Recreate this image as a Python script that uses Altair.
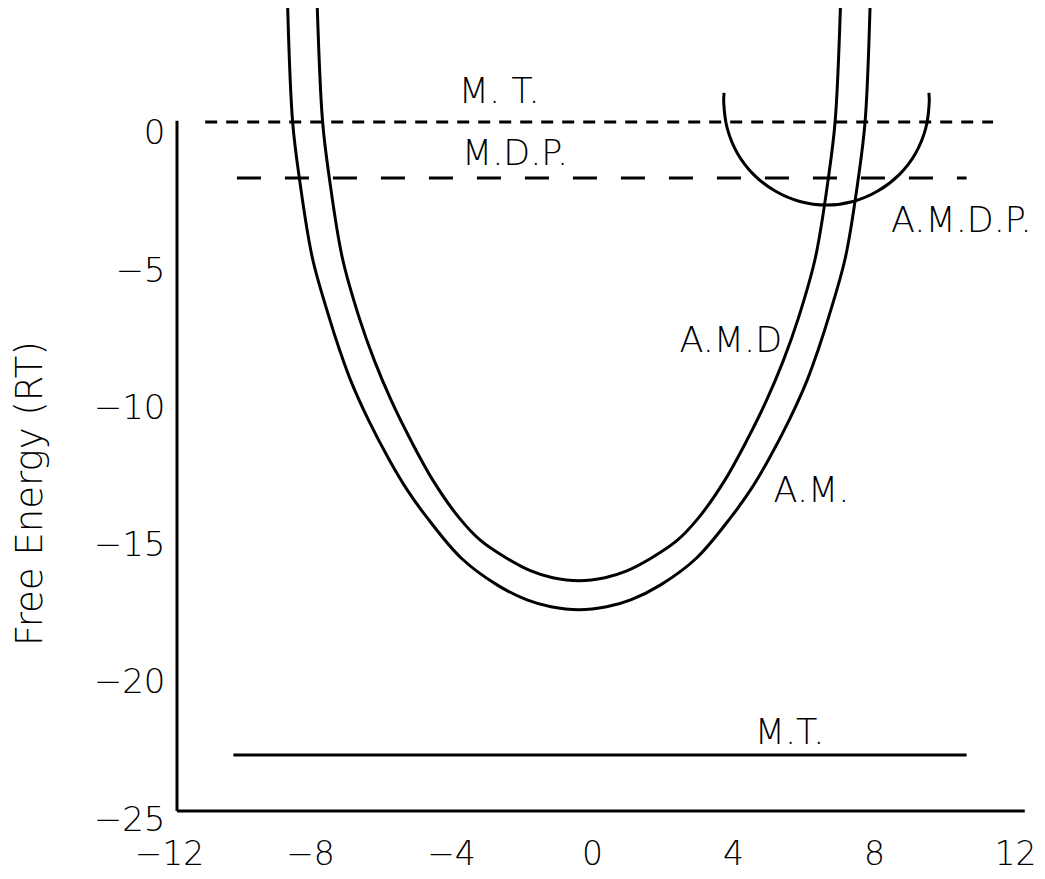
import altair as alt
import pandas as pd

FONT = "DejaVu Sans"

# A.M. curve (outer well)
am_x = [-8.86, -8.72, -8.53, -8.16, -7.68, -7.39, -7.08, -6.57, -5.98, -5.47, -4.90, -3.94, -2.92, -2.07, -1.39, -0.60,
        0.19, 0.87, 1.72, 2.74, 3.70, 4.27, 4.78, 5.37, 5.88, 6.19, 6.48, 6.96, 7.33, 7.52, 7.66]
am_y = [4.26, 0.11, -1.93, -4.84, -7.03, -8.19, -9.29, -10.75, -12.20, -13.30, -14.32, -15.78, -16.76, -17.31, -17.56, -17.67,
        -17.56, -17.31, -16.76, -15.78, -14.32, -13.30, -12.20, -10.75, -9.29, -8.19, -7.03, -4.84, -1.93, 0.11, 4.26]

# A.M.D curve (inner well)
amd_x = [-8.02, -7.87, -7.68, -7.31, -6.83, -6.40, -5.92, -5.36, -4.73, -4.00, -3.38, -2.67, -1.96, -1.34, -0.60,
         0.14, 0.76, 1.47, 2.18, 2.80, 3.53, 4.16, 4.72, 5.20, 5.63, 6.11, 6.48, 6.67, 6.82]
amd_y = [4.26, 0.12, -1.92, -4.84, -7.03, -8.59, -10.05, -11.51, -12.97, -14.31, -15.15, -15.77, -16.25, -16.50, -16.61,
         -16.50, -16.25, -15.77, -15.15, -14.31, -12.97, -11.51, -10.05, -8.59, -7.03, -4.84, -1.92, 0.12, 4.26]

# A.M.D.P. arc
amdp_x = [9.33, 9.34, 9.24, 8.95, 8.49, 7.88, 7.18, 6.43, 5.67, 4.97, 4.36, 3.90, 3.61, 3.51, 3.52]
amdp_y = [1.17, 0.84, -0.13, -1.04, -1.81, -2.41, -2.79, -2.92, -2.79, -2.41, -1.81, -1.04, -0.13, 0.84, 1.17]

# Horizontal levels
lvl_name = ["M. T.", "M.D.P.", "M.T."]
lvl_x1 = [-11.2, -10.3, -10.4]
lvl_x2 = [11.15, 10.4, 10.4]
lvl_y = [0.11, -1.93, -22.96]

# Text labels
label_text = ["M. T.", "M.D.P.", "A.M.D.P.", "A.M.D", "A.M.", "M.T."]
label_x = [-2.86, -2.41, 10.25, 3.71, 6.0, 5.38]
label_y = [1.20, -1.06, -3.50, -7.87, -13.34, -22.16]

x_ticks = [-12, -8, -4, 0, 4, 8, 12]
y_ticks = [0, -5, -10, -15, -20, -25]

XDOM = [-12, 12]
YDOM = [-25, 4.26]

xs = alt.Scale(domain=XDOM, nice=False, zero=False)
ys = alt.Scale(domain=YDOM, nice=False, zero=False)

x_axis = alt.Axis(values=x_ticks, domain=False, ticks=False, tickSize=0, grid=False,
                  labelFont=FONT, labelFontSize=33, labelFontWeight=200, labelColor="black",
                  labelPadding=43, labelBaseline="middle", labelOffset=-8,
                  labelFlush=False, labelOverlap=False, labelBound=False,
                  title=None)
y_axis = alt.Axis(values=y_ticks, domain=False, ticks=False, tickSize=0, grid=False,
                  labelFont=FONT, labelFontSize=34, labelFontWeight=200, labelColor="black",
                  labelPadding=12, labelBaseline="middle", labelOffset=9, labelAlign="right",
                  labelFlush=False, labelOverlap=False,
                  title="Free Energy (RT)", titleFont=FONT, titleFontSize=37, titleFontWeight=200,
                  titleColor="black", titleAngle=270, titleX=-147, titleY=485,
                  titleAlign="center", titleBaseline="middle")

curves = pd.DataFrame({
    "x": am_x + amd_x,
    "y": am_y + amd_y,
    "curve": ["A.M."] * len(am_x) + ["A.M.D"] * len(amd_x),
    "i": list(range(len(am_x))) + list(range(len(amd_x))),
})

base_curves = alt.Chart(curves).mark_line(
    color="black", strokeWidth=3, interpolate="catmull-rom"
).encode(
    x=alt.X("x:Q", scale=xs, axis=x_axis),
    y=alt.Y("y:Q", scale=ys, axis=y_axis),
    detail="curve:N",
    order="i:Q",
)

arc = pd.DataFrame({"x": amdp_x, "y": amdp_y, "i": list(range(len(amdp_x)))})
arc_layer = alt.Chart(arc).mark_line(
    color="black", strokeWidth=3, interpolate="catmull-rom"
).encode(
    x=alt.X("x:Q", scale=xs),
    y=alt.Y("y:Q", scale=ys),
    order="i:Q",
)

levels = pd.DataFrame({"name": lvl_name, "x1": lvl_x1, "x2": lvl_x2, "y": lvl_y})
dash_styles = {"M. T.": [12, 9], "M.D.P.": [24, 24], "M.T.": None}
level_layers = []
for nm in lvl_name:
    kw = dict(color="black", strokeWidth=3)
    if dash_styles[nm] is not None:
        kw["strokeDash"] = dash_styles[nm]
    level_layers.append(
        alt.Chart(levels[levels["name"] == nm]).mark_rule(**kw).encode(
            x=alt.X("x1:Q", scale=xs), x2="x2:Q", y=alt.Y("y:Q", scale=ys)
        )
    )

axes_df = pd.DataFrame({"x1": [-12, -12], "x2": [-12, 12.05], "y1": [-25, -25], "y2": [0.15, -25]})
axes_layer = alt.Chart(axes_df).mark_rule(color="black", strokeWidth=3).encode(
    x=alt.X("x1:Q", scale=xs), x2="x2:Q",
    y=alt.Y("y1:Q", scale=ys), y2="y2:Q",
)

labels = pd.DataFrame({"t": label_text, "x": label_x, "y": label_y})
text_layer = alt.Chart(labels).mark_text(
    font=FONT, fontSize=35, fontWeight=200, color="black", align="center", baseline="middle"
).encode(
    x=alt.X("x:Q", scale=xs), y=alt.Y("y:Q", scale=ys), text="t:N"
)

chart = alt.layer(
    base_curves, arc_layer, *level_layers, axes_layer, text_layer
).properties(
    width=846, height=803,
    padding={"left": 169, "top": 0, "right": 14, "bottom": 60},
    autosize="none",
    background="white",
).configure_view(strokeWidth=0)

chart.save("out.html", embed_options={"renderer": "svg", "actions": False})
